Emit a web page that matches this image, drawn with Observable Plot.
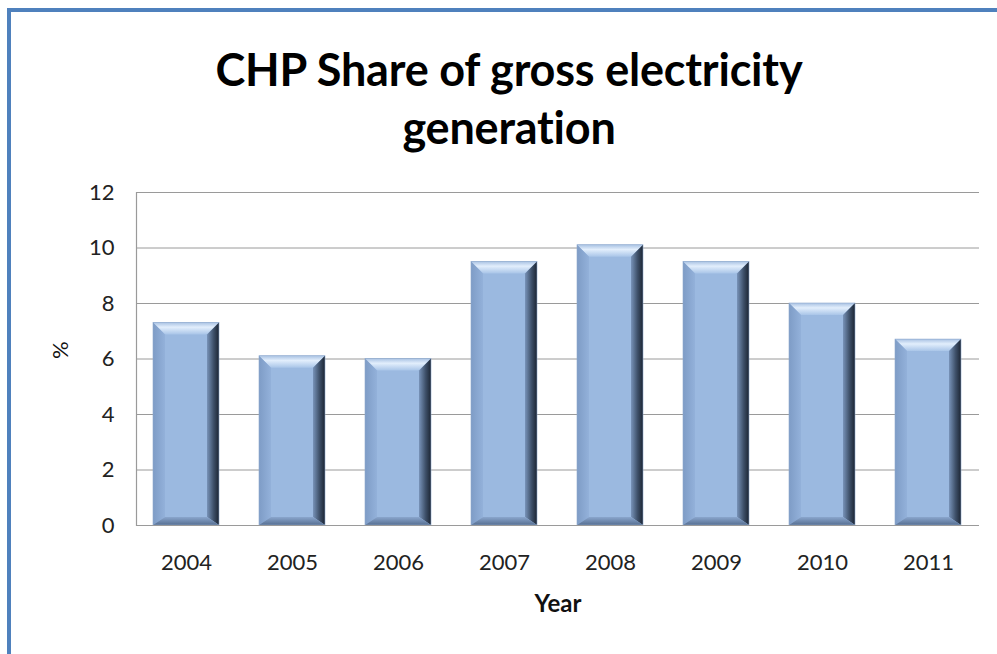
<!DOCTYPE html>
<html>
<head>
<meta charset="utf-8">
<script src="https://cdn.jsdelivr.net/npm/d3@7"></script>
<script src="https://cdn.jsdelivr.net/npm/@observablehq/plot@0.6"></script>
<style>
  html, body { margin: 0; padding: 0; background: #fff; }
  #wrap { position: relative; width: 997px; height: 654px; overflow: hidden; background: #fff; }
  #frame { position: absolute; left: 7px; top: 8px; width: 1100px; height: 800px;
           border-left: 4px solid #4f81bd; border-top: 4px solid #4f81bd; box-sizing: border-box; }
  #title { position: absolute; left: 0; width: 1018px; top: 40px; text-align: center;
           font-family: Lato, "Open Sans", sans-serif; font-weight: bold; font-size: 45px;
           line-height: 58px; color: #000; letter-spacing: -0.2px; }
  #chart { position: absolute; left: 0; top: 0; }
</style>
</head>
<body>
<div id="wrap">
  <div id="frame"></div>
  <div id="title">CHP Share of gross electricity<br>generation</div>
  <div id="chart"></div>
</div>
<script>
const years = ["2004", "2005", "2006", "2007", "2008", "2009", "2010", "2011"];
const shares = [7.3, 6.1, 6.0, 9.5, 10.1, 9.5, 8.0, 6.7];
const yTicks = [0, 2, 4, 6, 8, 10, 12];
const titleText = "CHP Share of gross electricity generation";
const xLabel = "Year";
const yLabel = "%";

const data = years.map((y, i) => ({year: y, value: shares[i]}));

function bevel(index, scales, values, dimensions, context, next) {
  const g = next(index, scales, values, dimensions, context);
  const ns = "http://www.w3.org/2000/svg";
  const rects = Array.from(g.querySelectorAll("rect"));
  for (const r of rects) {
    const x = +r.getAttribute("x"), y = +r.getAttribute("y");
    const w = +r.getAttribute("width"), h = +r.getAttribute("height");
    const b = Math.min(12, h / 2);
    const bb = Math.min(8, h / 3);
    r.setAttribute("fill", "#9bb9e0");
    const polys = [
      {pts: [[x, y], [x + w, y], [x + w - b, y + b], [x + b, y + b]], fill: "url(#bevTop)"},
      {pts: [[x, y], [x + b, y + b], [x + b, y + h - bb], [x, y + h]], fill: "url(#bevLeft)"},
      {pts: [[x + w, y], [x + w, y + h], [x + w - b, y + h - bb], [x + w - b, y + b]], fill: "url(#bevRight)"},
      {pts: [[x, y + h], [x + b, y + h - bb], [x + w - b, y + h - bb], [x + w, y + h]], fill: "url(#bevBottom)"}
    ];
    for (const p of polys) {
      const el = document.createElementNS(ns, "polygon");
      el.setAttribute("points", p.pts.map(d => d.join(",")).join(" "));
      el.setAttribute("fill", p.fill);
      g.appendChild(el);
    }
    const edge = document.createElementNS(ns, "rect");
    edge.setAttribute("x", x); edge.setAttribute("y", y);
    edge.setAttribute("width", w); edge.setAttribute("height", h);
    edge.setAttribute("fill", "none");
    edge.setAttribute("stroke", "#8ea8cc");
    edge.setAttribute("stroke-width", 0.6);
    g.appendChild(edge);
  }
  return g;
}

const plot = Plot.plot({
  width: 997,
  height: 654,
  marginTop: 192,
  marginBottom: 129,
  marginLeft: 136,
  marginRight: 18,
  style: {fontFamily: "Lato, 'Open Sans', sans-serif", fontSize: "22px", color: "#222", background: "transparent"},
  x: {domain: years, paddingInner: 0.375, paddingOuter: 0.16, label: null},
  y: {domain: [0, 12], ticks: yTicks, label: null},
  marks: [
    Plot.gridY(yTicks, {stroke: "#9a9a9a", strokeOpacity: 1, strokeWidth: 1}),
    Plot.axisY(yTicks, {tickSize: 0, tickPadding: 22, label: null, fill: "#222"}),
    Plot.axisX({tickSize: 0, tickPadding: 29, label: null, fill: "#222"}),
    Plot.barY(data, {x: "year", y: "value", render: bevel}),
    Plot.ruleY([0], {stroke: "#9a9a9a", strokeWidth: 1.2}),
    Plot.frame({anchor: "left", stroke: "#9a9a9a", strokeWidth: 1.2}),
    Plot.text([xLabel], {frameAnchor: "bottom", dy: 86, fontWeight: "bold", fontSize: 24, fill: "#111"}),
    Plot.text([yLabel], {frameAnchor: "left", dx: -76, rotate: -90, fontSize: 22, fill: "#111"})
  ]
});

const svg = d3.select(plot);
const defs = svg.insert("defs", ":first-child");
function grad(id, x2, y2, stops) {
  const gr = defs.append("linearGradient").attr("id", id).attr("x1", 0).attr("y1", 0).attr("x2", x2).attr("y2", y2);
  for (const [o, c] of stops) gr.append("stop").attr("offset", o).attr("stop-color", c);
}
grad("bevTop", 0, 1, [["0%", "#a9c2e3"], ["40%", "#e2eefc"], ["100%", "#a9c5e8"]]);
grad("bevLeft", 1, 0, [["0%", "#7e9cc6"], ["100%", "#93b1da"]]);
grad("bevRight", 1, 0, [["0%", "#7893b9"], ["55%", "#3e5069"], ["100%", "#1c2533"]]);
grad("bevBottom", 0, 1, [["0%", "#8aa6cd"], ["100%", "#566f92"]]);

document.getElementById("chart").appendChild(plot);
</script>
</body>
</html>
